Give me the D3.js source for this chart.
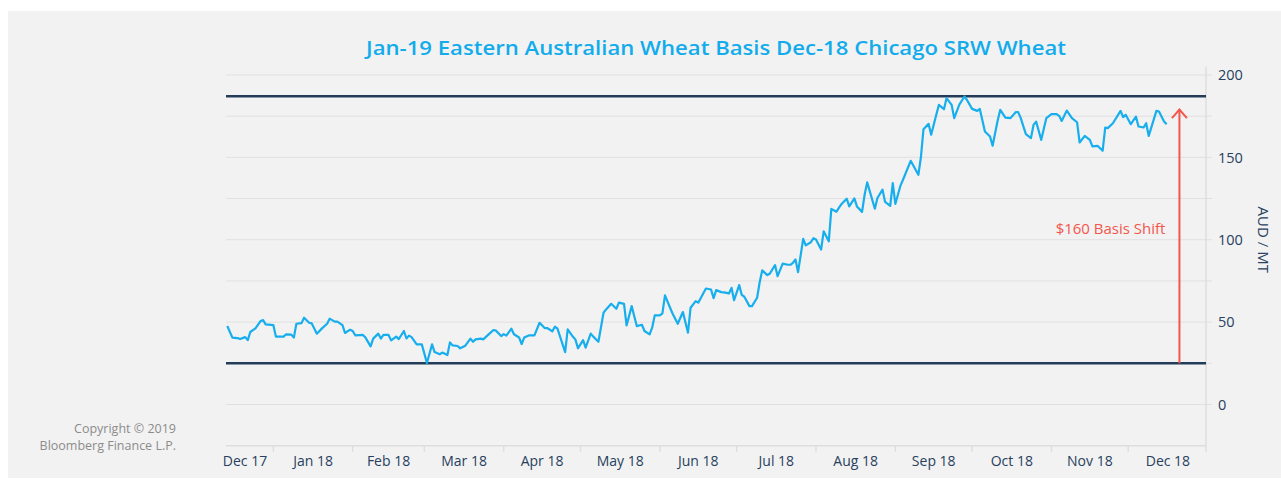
<!DOCTYPE html>
<html>
<head>
<meta charset="utf-8">
<script src="https://cdn.jsdelivr.net/npm/d3@7"></script>
<style>
  body { margin: 0; background: #fff; }
  svg { display: block; font-family: "Open Sans", sans-serif; }
</style>
</head>
<body>
<div id="chart"></div>
<script>
// basis series, AUD / MT
var dates = [
  "2017-12-14","2017-12-16","2017-12-18","2017-12-19","2017-12-21","2017-12-22","2017-12-23","2017-12-25","2017-12-27","2017-12-28","2017-12-29",
  "2018-01-01","2018-01-02","2018-01-05","2018-01-06","2018-01-08","2018-01-09","2018-01-10","2018-01-12","2018-01-13","2018-01-15","2018-01-16","2018-01-18","2018-01-20","2018-01-22","2018-01-23","2018-01-25","2018-01-26","2018-01-28","2018-01-29","2018-01-31",
  "2018-02-01","2018-02-02","2018-02-05","2018-02-06","2018-02-08","2018-02-09","2018-02-11","2018-02-12","2018-02-13","2018-02-15","2018-02-16","2018-02-18","2018-02-19","2018-02-21","2018-02-22","2018-02-23","2018-02-24","2018-02-26","2018-02-28",
  "2018-03-01","2018-03-02","2018-03-04","2018-03-05","2018-03-07","2018-03-08","2018-03-10","2018-03-11","2018-03-12","2018-03-14","2018-03-15","2018-03-17","2018-03-19","2018-03-20","2018-03-21","2018-03-23","2018-03-24","2018-03-26","2018-03-28","2018-03-29","2018-03-31",
  "2018-04-01","2018-04-02","2018-04-04","2018-04-05","2018-04-07","2018-04-08","2018-04-09","2018-04-11","2018-04-13","2018-04-15","2018-04-17","2018-04-18","2018-04-20","2018-04-21","2018-04-22","2018-04-25","2018-04-26","2018-04-28","2018-04-29","2018-04-30",
  "2018-05-02","2018-05-03","2018-05-05","2018-05-06","2018-05-08","2018-05-10","2018-05-11","2018-05-13","2018-05-15","2018-05-16","2018-05-18","2018-05-19","2018-05-21","2018-05-22","2018-05-23","2018-05-25","2018-05-26","2018-05-28","2018-05-29","2018-05-30",
  "2018-06-01","2018-06-02","2018-06-03","2018-06-05","2018-06-06","2018-06-08","2018-06-10","2018-06-12","2018-06-13","2018-06-15","2018-06-16","2018-06-19","2018-06-21","2018-06-22","2018-06-23","2018-06-25","2018-06-26","2018-06-28","2018-06-29","2018-06-30",
  "2018-07-02","2018-07-03","2018-07-04","2018-07-06","2018-07-07","2018-07-09","2018-07-10","2018-07-11","2018-07-13","2018-07-14","2018-07-16","2018-07-17","2018-07-19","2018-07-21","2018-07-22","2018-07-23","2018-07-24","2018-07-25","2018-07-27","2018-07-28","2018-07-30","2018-07-31",
  "2018-08-01","2018-08-03","2018-08-04","2018-08-06","2018-08-07","2018-08-09","2018-08-10","2018-08-11","2018-08-13","2018-08-14","2018-08-16","2018-08-17","2018-08-19","2018-08-20","2018-08-21","2018-08-24","2018-08-25","2018-08-27","2018-08-28","2018-08-30","2018-08-31",
  "2018-09-01","2018-09-03","2018-09-04","2018-09-07","2018-09-10","2018-09-11","2018-09-12","2018-09-14","2018-09-15","2018-09-17","2018-09-18","2018-09-20","2018-09-21","2018-09-23","2018-09-24","2018-09-26","2018-09-28","2018-09-29",
  "2018-10-01","2018-10-03","2018-10-04","2018-10-06","2018-10-08","2018-10-09","2018-10-11","2018-10-12","2018-10-14","2018-10-16","2018-10-18","2018-10-19","2018-10-20","2018-10-22","2018-10-24","2018-10-25","2018-10-26","2018-10-28","2018-10-30",
  "2018-11-01","2018-11-03","2018-11-04","2018-11-05","2018-11-07","2018-11-09","2018-11-11","2018-11-12","2018-11-14","2018-11-16","2018-11-17","2018-11-19","2018-11-21","2018-11-22","2018-11-23","2018-11-25","2018-11-28","2018-11-29","2018-11-30",
  "2018-12-02","2018-12-04","2018-12-05","2018-12-07","2018-12-08","2018-12-09","2018-12-12","2018-12-13","2018-12-15","2018-12-16"
];
var basis = [
  47.6,40.6,40.3,39.7,40.9,39.1,44.0,46.2,50.6,51.2,48.6,
  48.2,41.2,41.2,42.6,42.4,40.6,49.0,49.4,52.7,49.6,49.2,43.0,46.2,49.0,52.1,50.3,50.3,48.2,43.4,45.4,
  44.6,42.0,42.2,40.6,35.3,40.0,43.0,40.0,42.2,42.2,38.9,41.2,39.7,44.6,40.1,41.8,40.9,36.5,36.5,
  30.9,25.2,36.5,31.8,30.5,31.5,30.0,37.7,35.9,35.5,34.1,35.7,40.0,38.1,39.5,40.0,39.5,42.4,45.2,44.8,41.5,
  42.7,41.8,46.0,42.6,40.7,36.7,40.6,42.0,42.0,49.6,46.4,46.4,44.4,47.2,46.0,31.8,45.6,41.2,39.5,34.1,
  39.1,34.5,43.0,41.2,38.1,55.7,57.7,61.1,58.1,61.8,61.1,48.0,59.7,53.6,47.6,48.4,44.6,42.6,46.6,54.1,
  54.1,55.3,66.2,58.7,55.1,49.0,56.1,43.6,58.7,62.7,61.8,70.4,69.8,64.5,69.4,68.2,68.0,67.4,70.8,63.3,
  72.5,66.5,65.4,59.7,59.7,64.8,74.2,81.4,78.5,79.5,84.6,77.9,85.5,84.8,84.8,86.0,88.0,80.3,100.5,96.6,98.5,100.9,
  100.1,94.0,105.1,99.0,118.7,117.0,119.5,121.7,124.9,120.2,125.1,120.2,116.9,127.3,134.8,118.8,125.3,130.4,122.9,120.6,134.4,
  121.7,132.8,136.4,147.9,139.4,150.2,167.1,170.3,163.7,175.8,181.8,179.2,185.9,181.8,173.8,182.0,186.9,184.8,
  179.4,178.2,179.4,165.7,162.6,157.0,172.5,178.8,174.1,173.8,177.4,177.4,173.8,164.1,161.7,169.7,171.7,160.6,173.8,
  176.2,176.2,175.2,172.1,178.4,173.8,171.3,159.0,163.0,160.6,156.6,157.0,154.0,168.1,167.7,170.7,178.2,174.4,175.8,
  170.1,174.7,168.7,168.1,170.7,163.0,178.2,177.8,171.7,170.1
];
var yTicks = [0, 50, 100, 150, 200];
var gridValues = [0, 25, 50, 75, 100, 125, 150, 175, 200];
var rangeLines = [187, 25];          // high / low of the basis
var shiftDate = "2018-12-21";        // where the arrow stands
var shiftTop = 179;
var shiftLabel = "$160 Basis Shift";
var titleText = "Jan-19 Eastern Australian Wheat Basis Dec-18 Chicago SRW Wheat";

drawChart();

function drawChart() {
    var W = 1281, H = 481;
    var m = { left: 226, right: 1206, top: 66.7, bottom: 445.7 };

    var parse = d3.timeParse("%Y-%m-%d");
    var data = dates.map(function (d, i) {
        return { date: parse(d), value: basis[i] };
    });

    var svg = d3.select("#chart").append("svg").attr("width", W).attr("height", H);

    // panel
    svg.append("rect").attr("x", 8).attr("y", 11).attr("width", W - 8).attr("height", H - 14).attr("fill", "#f2f2f2");

    var x = d3.scaleTime()
        .domain([new Date(2017, 11, 13, 12), new Date(2018, 11, 31, 9)])
        .range([m.left, m.right]);
    var y = d3.scaleLinear().domain([-25, 205]).range([m.bottom, m.top]);

    // gridlines
    svg.append("g").selectAll("line").data(gridValues).enter().append("line")
        .attr("x1", m.left).attr("x2", m.right + 6)
        .attr("y1", function (d) { return y(d); })
        .attr("y2", function (d) { return y(d); })
        .attr("stroke", "#e0e0e0").attr("stroke-width", 1);

    // x axis line + right axis line
    svg.append("line").attr("x1", m.left).attr("x2", m.right).attr("y1", m.bottom).attr("y2", m.bottom)
        .attr("stroke", "#dedede").attr("stroke-width", 1.5);
    svg.append("line").attr("x1", m.right).attr("x2", m.right).attr("y1", m.top).attr("y2", m.bottom + 6)
        .attr("stroke", "#dedede").attr("stroke-width", 1.5);

    var d0 = x.domain()[0], d1 = x.domain()[1];
    var months = d3.timeMonth.range(d3.timeMonth.floor(d0), d1);
    var fmt = d3.timeFormat("%b %y");

    // month ticks
    svg.append("g").selectAll("line").data(months.filter(function (d) { return d > d0; })).enter().append("line")
        .attr("x1", function (d) { return x(d); }).attr("x2", function (d) { return x(d); })
        .attr("y1", m.bottom).attr("y2", m.bottom + 6)
        .attr("stroke", "#dedede").attr("stroke-width", 1.5);

    // month labels, centred in each month
    svg.append("g").selectAll("text").data(months).enter().append("text")
        .attr("x", function (d) {
            var mid = (x(d) + x(d3.timeMonth.offset(d, 1))) / 2;
            return Math.max(mid, m.left + 19);
        })
        .attr("y", 466)
        .attr("text-anchor", "middle")
        .attr("fill", "#27415e")
        .style("font-size", "14px")
        .text(function (d) { return fmt(d); });

    // y labels on the right
    svg.append("g").selectAll("text").data(yTicks).enter().append("text")
        .attr("x", m.right + 12)
        .attr("y", function (d) { return y(d); })
        .attr("dy", "0.36em")
        .attr("fill", "#27415e")
        .style("font-size", "14.5px")
        .text(function (d) { return d; });

    svg.append("text")
        .attr("transform", "translate(1263," + y(100) + ") rotate(90)")
        .attr("text-anchor", "middle")
        .attr("dy", "0.35em")
        .attr("fill", "#27415e")
        .style("font-size", "15px")
        .text("AUD / MT");

    // high / low lines
    svg.append("g").selectAll("line").data(rangeLines).enter().append("line")
        .attr("x1", m.left).attr("x2", m.right)
        .attr("y1", function (d) { return y(d); })
        .attr("y2", function (d) { return y(d); })
        .attr("stroke", "#233d58").attr("stroke-width", 2.5);

    // basis line
    var line = d3.line()
        .x(function (d) { return x(d.date); })
        .y(function (d) { return y(d.value); });

    svg.append("path").datum(data)
        .attr("d", line)
        .attr("fill", "none")
        .attr("stroke", "#17aeee")
        .attr("stroke-width", 2.2)
        .attr("stroke-linejoin", "round");

    // arrow
    var ax = x(parse(shiftDate));
    var tipY = y(shiftTop);
    svg.append("line").attr("x1", ax).attr("x2", ax).attr("y1", y(rangeLines[1])).attr("y2", tipY)
        .attr("stroke", "#f3564b").attr("stroke-width", 2);
    svg.append("path")
        .attr("d", "M" + (ax - 7.5) + "," + (tipY + 8.5) + "L" + ax + "," + tipY + "L" + (ax + 7.5) + "," + (tipY + 8.5))
        .attr("fill", "none").attr("stroke", "#f3564b").attr("stroke-width", 2);

    svg.append("text")
        .attr("x", ax - 14)
        .attr("y", y(103.5))
        .attr("text-anchor", "end")
        .attr("fill", "#f3564b")
        .style("font-size", "15px")
        .text(shiftLabel);

    // title
    svg.append("text")
        .attr("x", 716).attr("y", 55)
        .attr("text-anchor", "middle")
        .attr("fill", "#12acec")
        .style("font-size", "20.5px")
        .style("font-weight", 600)
        .attr("textLength", 700)
        .attr("lengthAdjust", "spacingAndGlyphs")
        .text(titleText);

    // copyright
    var copy = svg.append("text").attr("text-anchor", "end").attr("fill", "#8c8c8c").style("font-size", "12.5px");
    copy.append("tspan").attr("x", 176).attr("y", 433).text("Copyright \u00a9 2019");
    copy.append("tspan").attr("x", 176).attr("y", 450).text("Bloomberg Finance L.P.");
}
</script>
</body>
</html>
